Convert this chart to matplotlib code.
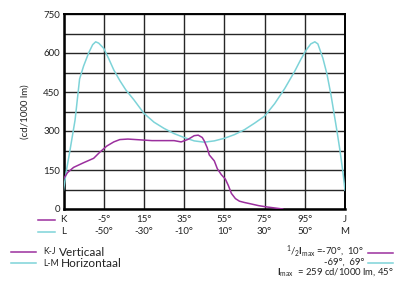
import numpy as np
import matplotlib
matplotlib.use("Agg")
from matplotlib import pyplot as plt
from matplotlib.lines import Line2D

plt.rcParams['font.family'] = ['Lato', 'DejaVu Sans']
plt.rcParams['mathtext.fontset'] = 'custom'
plt.rcParams['mathtext.rm'] = 'Lato'
plt.rcParams['mathtext.bf'] = 'Lato:bold'

# L-M horizontal plane (angle in degrees, cd/1000 lm)
lm_angle = [-70, -68.5, -66.75, -64.25, -62, -60, -57.5, -55.5, -54, -52.5, -50, -47.5,
            -45, -42, -39, -35, -30, -25, -20, -15, -10, -5, 0, 5, 10, 15, 20, 25, 30,
            35, 40, 45, 48, 50.75, 53, 55, 56.5, 59, 61, 63, 64.5, 66, 67.5, 69, 70]
lm_value = [72, 150, 227, 342, 500, 550, 600, 632, 643, 638, 618, 578,
            535, 494, 458, 420, 368, 334, 310, 290, 275, 262, 257, 262, 272, 286, 305, 330, 357,
            405, 463, 530, 575, 612, 635, 643, 635, 580, 520, 440, 370, 300, 225, 140, 72]

# K-J vertical plane
kj_angle = [-70, -68, -65, -60, -55, -52, -48.5, -45, -42, -38, -32, -26, -20, -15, -11.5,
            -8, -5, -3, -1, 0, 1.5, 2.5, 5, 6.5, 8.5, 10.5, 12, 13.5, 15.5, 17.5, 20, 23,
            27, 31, 35, 39]
kj_value = [115, 140, 160, 178, 195, 218, 242, 258, 267, 269, 266, 263, 263, 263, 258,
            268, 282, 284, 275, 262, 235, 208, 185, 155, 132, 115, 90, 60, 40, 30, 25, 20,
            13, 8, 4, 0]

x_ticks = [-70, -50, -30, -10, 10, 30, 50, 70]
kj_labels = ['K', '-5°', '15°', '35°', '55°', '75°', '95°', 'J']
lm_labels = ['L', '-50°', '-30°', '-10°', '10°', '30°', '50°', 'M']
y_ticks = list(range(0, 751, 75))

MAGENTA = '#9b2f9e'
CYAN = '#7dd3d8'
TXT = '#222222'
W, H = 398, 284


def fx(px):
    return px / W


def fy(py):
    return 1 - py / H


fig = plt.figure(figsize=(W / 100, H / 100), dpi=100)
ax = fig.add_axes([fx(63.5), fy(209), fx(345) - fx(63.5), fy(14) - fy(209)])

ax.plot(lm_angle, lm_value, color=CYAN, lw=1.1, zorder=3)
ax.plot(kj_angle, kj_value, color=MAGENTA, lw=1.1, zorder=4)

ax.set_xlim(-70, 70)
ax.set_ylim(0, 750)
ax.set_xticks(x_ticks)
ax.set_xticklabels([])
ax.set_yticks(y_ticks)
ax.set_yticklabels([str(v) if v % 150 == 0 else '' for v in y_ticks],
                   fontsize=7, color=TXT)
ax.tick_params(length=0, pad=2.5)
ax.grid(True, color='#262626', lw=1.0)
for s in ax.spines.values():
    s.set_linewidth(1.4)
    s.set_color('black')
ax.spines['left'].set_linewidth(1.8)
ax.spines['bottom'].set_linewidth(1.8)

ax.set_ylabel('(cd/1000 lm)', fontsize=7, color=TXT, labelpad=10)

# two rows of angle labels under the axis
for x, a, b in zip(x_ticks, kj_labels, lm_labels):
    ax.text(x, -0.055, a, transform=ax.get_xaxis_transform(), ha='center', va='center',
            fontsize=7, color=TXT)
    ax.text(x, -0.115, b, transform=ax.get_xaxis_transform(), ha='center', va='center',
            fontsize=7, color=TXT)

fig.add_artist(Line2D([fx(38), fx(55)], [fy(219.5), fy(219.5)], color=MAGENTA, lw=1.1))
fig.add_artist(Line2D([fx(38), fx(55)], [fy(231.7), fy(231.7)], color=CYAN, lw=1.1))

# legend bottom left
fig.add_artist(Line2D([fx(11), fx(36)], [fy(251.7), fy(251.7)], color=MAGENTA, lw=1.1))
fig.add_artist(Line2D([fx(11), fx(36)], [fy(263.3), fy(263.3)], color=CYAN, lw=1.1))
fig.text(fx(43), fy(252), 'K-J', fontsize=6.2, color=TXT, va='center')
fig.text(fx(59), fy(252), 'Verticaal', fontsize=8.5, color=TXT, va='center')
fig.text(fx(43), fy(263.5), 'L-M', fontsize=6.2, color=TXT, va='center')
fig.text(fx(61), fy(263.5), 'Horizontaal', fontsize=8.5, color=TXT, va='center')

# half max / max notes bottom right
fig.text(fx(364), fy(251), r'$^1/_2\mathbf{I}_{\mathrm{max}}$ =-70°,  10°', fontsize=6.8,
         color=TXT, ha='right', va='center')
fig.text(fx(364), fy(262), '-69°,  69°', fontsize=6.8, color=TXT, ha='right', va='center')
fig.text(fx(394), fy(272.5), r'$\mathbf{I}_{\mathrm{max}}$  = 259 cd/1000 lm, 45°', fontsize=6.8,
         color=TXT, ha='right', va='center')
fig.add_artist(Line2D([fx(368), fx(393)], [fy(252.7), fy(252.7)], color=MAGENTA, lw=1.1))
fig.add_artist(Line2D([fx(368), fx(393)], [fy(263.3), fy(263.3)], color=CYAN, lw=1.1))

fig.savefig('out.png', dpi=100)
